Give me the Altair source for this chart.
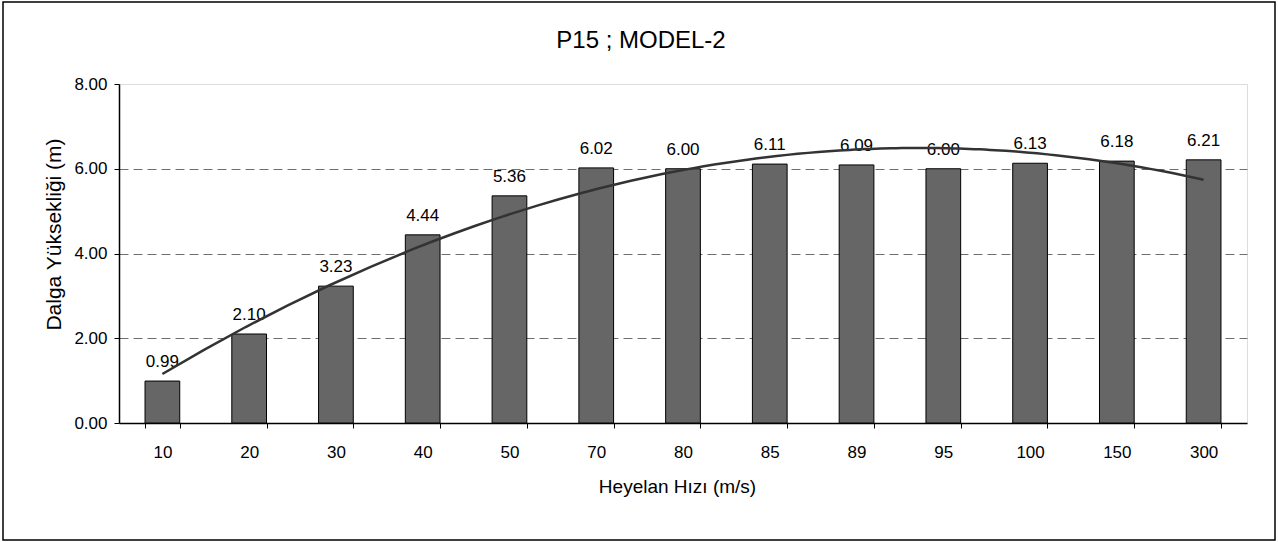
import altair as alt
import pandas as pd

# ---- data ----
speeds = ["10", "20", "30", "40", "50", "70", "80", "85", "89", "95", "100", "150", "300"]
heights = [0.99, 2.10, 3.23, 4.44, 5.36, 6.02, 6.00, 6.11, 6.09, 6.00, 6.13, 6.18, 6.21]
index = list(range(1, len(speeds) + 1))
y_ticks = [0, 2, 4, 6, 8]
chart_title = "P15 ; MODEL-2"

df = pd.DataFrame({"speed": speeds, "height": heights, "idx": index})

FONT = "Liberation Sans Narrow, Arial Narrow, Liberation Sans, Arial, sans-serif"
REG = "Liberation Sans, Arial, sans-serif"

W, H = 1128, 339

y_enc = alt.Y(
    "height:Q",
    scale=alt.Scale(domain=[0, 8], nice=False, zero=True),
    axis=alt.Axis(
        values=y_ticks, format=".2f", title="Dalga Yüksekliği (m)",
        grid=True, gridDash=[9, 5], gridColor="#6e6e6e", gridWidth=1,
        gridOpacity=alt.condition("datum.value == 8 || datum.value == 0", alt.value(0), alt.value(1)),
        domainColor="black", domainWidth=1.5, tickColor="black", tickSize=5,
        labelFont=FONT, labelFontSize=17, labelColor="black", labelPadding=7,
        titleFont=REG, titleFontSize=21, titleFontWeight="normal", titleColor="black",
        titleAngle=-90, titleBaseline="alphabetic", titleX=-59, titleY=150,
        titleAlign="center",
    ),
)

x_enc = alt.X(
    "speed:N", sort=speeds,
    scale=alt.Scale(paddingInner=0.6, paddingOuter=0.3),
    axis=alt.Axis(
        title="Heyelan Hızı (m/s)", labelAngle=0, tickBand="extent",
        domainColor="black", domainWidth=1.5, tickColor="black", tickSize=5,
        labelFont=FONT, labelFontSize=17, labelColor="black",
        labelBaseline="alphabetic", labelPadding=29,
        titleFont=FONT, titleFontSize=19, titleFontWeight="normal", titleColor="black",
        titleBaseline="alphabetic", titleY=69, titleX=558, grid=False,
    ),
)

base = alt.Chart(df)

bars = base.mark_bar(fill="#666666", stroke="black", strokeWidth=1).encode(x=x_enc, y=y_enc)

labels = base.mark_text(
    font=FONT, fontSize=17, color="black", baseline="alphabetic", dy=-14
).encode(
    x=x_enc,
    y=y_enc,
    text=alt.Text("height:Q", format=".2f"),
)

trend = base.transform_regression(
    "idx", "height", method="poly", order=2, extent=[1, 13]
).mark_line(color="#333333", strokeWidth=2.5).encode(
    x=alt.X("idx:Q", scale=alt.Scale(domain=[0.5, 13.5], nice=False, zero=False), axis=None),
    y=y_enc,
)

one = alt.Data(values=[{"k": 1}])

frame = alt.Chart(one).mark_rect(
    fill=None, stroke="black", strokeWidth=1.5
).encode(
    x=alt.value(-116), x2=alt.value(1156), y=alt.value(-82), y2=alt.value(456)
)

title = alt.Chart(one).mark_text(
    text=chart_title, font=FONT, fontSize=24, color="black",
    align="center", baseline="alphabetic"
).encode(x=alt.value(522), y=alt.value(-36))

chart = alt.layer(
    alt.layer(bars, labels), trend, frame, title
).resolve_scale(x="independent").properties(
    width=W, height=H,
    padding={"left": 119, "top": 84, "right": 31, "bottom": 119},
    autosize=alt.AutoSizeParams(type="none"),
).configure_view(stroke="black", strokeWidth=1).configure(background="white")

chart.save("out.html", embed_options={"renderer": "svg", "actions": False})
